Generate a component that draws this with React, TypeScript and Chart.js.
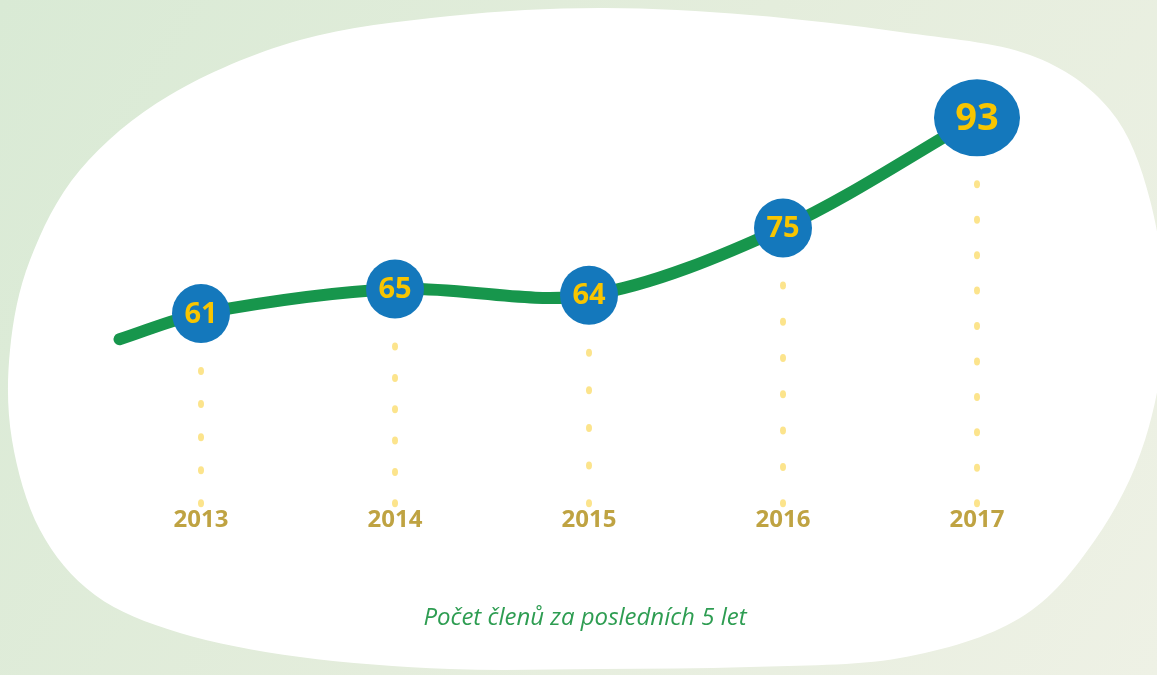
import React, { useEffect, useRef } from "react";
import { Chart, registerables } from "chart.js";

Chart.register(...registerables);

// ---- data ----
const years = [2013, 2014, 2015, 2016, 2017];
const yearLabels = ["2013", "2014", "2015", "2016", "2017"];
const members = [61, 65, 64, 75, 93];
// lead-in point of the curve, left of the first year
const leadInYear = 2012.58;
const leadInValue = 56.8;
const caption = "Počet členů za posledních 5 let";

// ---- styles ----
const GREEN = "#17964c";
const BLUE = "#1478bc";
const NUM_YELLOW = "#f8c500";
const DOT_YELLOW = "#fce48c";
const LABEL_GOLD = "#bfa342";
const CAPTION_GREEN = "#2e9d52";

const blobOutline: [number, number][] = [
  [300, 40], [450, 16], [600, 8], [750, 15], [900, 32], [1030, 55],
  [1110, 110], [1150, 200], [1165, 320], [1145, 440], [1095, 540], [1020, 618], [900, 658],
  [750, 667], [600, 669], [450, 669], [300, 657], [180, 633], [95, 595],
  [40, 530], [12, 440], [10, 350], [30, 260], [80, 170], [170, 95],
];

function closedSpline(ctx: CanvasRenderingContext2D, pts: [number, number][]) {
  const n = pts.length;
  ctx.beginPath();
  ctx.moveTo(pts[0][0], pts[0][1]);
  for (let i = 0; i < n; i++) {
    const p0 = pts[(i - 1 + n) % n];
    const p1 = pts[i];
    const p2 = pts[(i + 1) % n];
    const p3 = pts[(i + 2) % n];
    const c1x = p1[0] + (p2[0] - p0[0]) / 6;
    const c1y = p1[1] + (p2[1] - p0[1]) / 6;
    const c2x = p2[0] - (p3[0] - p1[0]) / 6;
    const c2y = p2[1] - (p3[1] - p1[1]) / 6;
    ctx.bezierCurveTo(c1x, c1y, c2x, c2y, p2[0], p2[1]);
  }
  ctx.closePath();
}

const backgroundPlugin = {
  id: "bgBlob",
  beforeDraw(chart: any) {
    const ctx = chart.ctx as CanvasRenderingContext2D;
    const w = chart.width;
    const h = chart.height;
    ctx.save();
    const g = ctx.createLinearGradient(0, 0, w, h);
    g.addColorStop(0, "#d9ead5");
    g.addColorStop(0.5, "#e4eddc");
    g.addColorStop(1, "#eef1e5");
    ctx.fillStyle = g;
    ctx.fillRect(0, 0, w, h);
    closedSpline(ctx, blobOutline);
    ctx.fillStyle = "#ffffff";
    ctx.fill();
    ctx.restore();
  },
};

function markerSize(i: number) {
  return i === members.length - 1 ? { rx: 43, ry: 38.5, font: 38 } : { rx: 29, ry: 29.5, font: 29 };
}

const dotsPlugin = {
  id: "dots",
  beforeDatasetsDraw(chart: any) {
    const ctx = chart.ctx as CanvasRenderingContext2D;
    const xs = chart.scales.x;
    const ys = chart.scales.y;
    const bottom = ys.getPixelForValue(ys.min);
    ctx.save();
    ctx.fillStyle = DOT_YELLOW;
    members.forEach((v, i) => {
      const px = xs.getPixelForValue(years[i]);
      const py = ys.getPixelForValue(v);
      const { ry } = markerSize(i);
      const start = py + ry + 28;
      const n = Math.max(1, Math.round((bottom - start) / 34));
      const step = (bottom - start) / n;
      for (let k = 0; k <= n; k++) {
        ctx.beginPath();
        ctx.ellipse(px, start + k * step, 3, 4, 0, 0, Math.PI * 2);
        ctx.fill();
      }
    });
    ctx.restore();
  },
  afterDatasetsDraw(chart: any) {
    const ctx = chart.ctx as CanvasRenderingContext2D;
    const xs = chart.scales.x;
    const ys = chart.scales.y;
    ctx.save();
    members.forEach((v, i) => {
      const px = xs.getPixelForValue(years[i]);
      const py = ys.getPixelForValue(v);
      const { rx, ry, font } = markerSize(i);
      ctx.beginPath();
      ctx.ellipse(px, py, rx, ry, 0, 0, Math.PI * 2);
      ctx.fillStyle = BLUE;
      ctx.fill();
      ctx.fillStyle = NUM_YELLOW;
      ctx.font = `bold ${font}px "Open Sans", sans-serif`;
      ctx.textAlign = "center";
      ctx.textBaseline = "middle";
      ctx.fillText(String(v), px, py + 1);
    });
    // caption
    ctx.fillStyle = CAPTION_GREEN;
    ctx.font = `italic 400 24px "Open Sans", sans-serif`;
    ctx.textAlign = "center";
    ctx.textBaseline = "middle";
    ctx.fillText(caption, 585, 618);
    ctx.restore();
  },
};

export default function App() {
  const ref = useRef<HTMLCanvasElement | null>(null);
  useEffect(() => {
    document.body.style.margin = "0";
    const canvas = ref.current!;
    const lineData = [
      { x: leadInYear, y: leadInValue },
      ...years.map((yr, i) => ({ x: yr, y: members[i] })),
    ];
    const chart = new Chart(canvas, {
      type: "line",
      data: {
        datasets: [
          {
            data: lineData,
            borderColor: GREEN,
            borderWidth: 12,
            borderCapStyle: "round",
            tension: 0.32,
            pointRadius: 0,
            fill: false,
            clip: false as any,
          },
        ],
      },
      options: {
        animation: false,
        responsive: false,
        parsing: false as any,
        layout: { padding: { top: 75, left: 104, right: 83, bottom: 137 } },
        plugins: { legend: { display: false }, tooltip: { enabled: false } },
        scales: {
          x: {
            type: "linear",
            min: 2012.5,
            max: 2017.5,
            afterBuildTicks: (axis: any) => {
              axis.ticks = years.map((v) => ({ value: v }));
            },
            ticks: {
              padding: 3,
              color: LABEL_GOLD,
              font: { family: '"Open Sans", sans-serif', size: 24, weight: "bold" },
              callback: (value: any) => yearLabels[years.indexOf(Number(value))] ?? "",
              maxRotation: 0,
              autoSkip: false,
            },
            grid: { display: false, drawTicks: false },
            border: { display: false },
          },
          y: {
            display: false,
            min: 30,
            max: 100,
          },
        },
      },
      plugins: [backgroundPlugin, dotsPlugin],
    });
    return () => chart.destroy();
  }, []);
  return (
    <div style={{ width: 1157, height: 675 }}>
      <canvas ref={ref} width={1157} height={675} />
    </div>
  );
}
